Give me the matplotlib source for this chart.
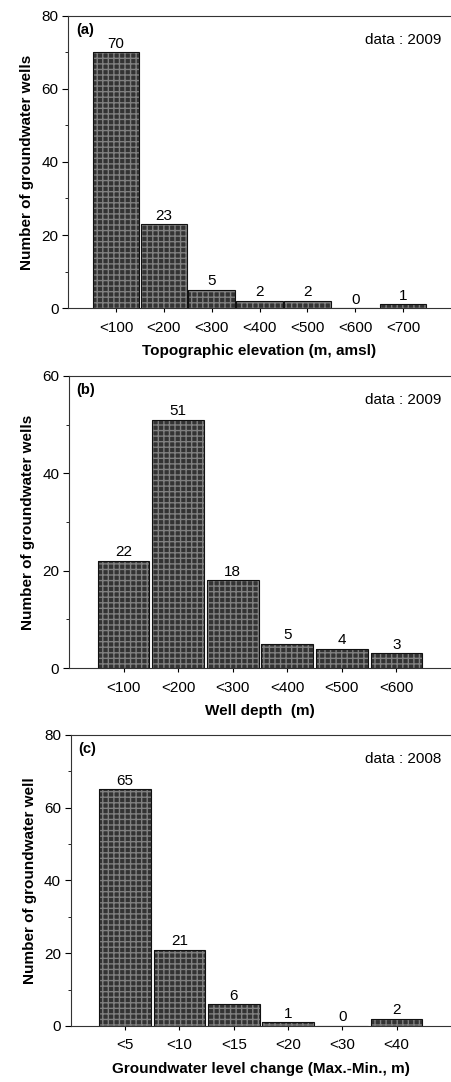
import numpy as np
import matplotlib
matplotlib.use("Agg")
import matplotlib.pyplot as plt
import matplotlib.ticker as mticker

plt.rcParams['font.family'] = ['Liberation Sans', 'DejaVu Sans']

# panel (a)
elev_labels = ["<100", "<200", "<300", "<400", "<500", "<600", "<700"]
elev_counts = [70, 23, 5, 2, 2, 0, 1]
# panel (b)
depth_labels = ["<100", "<200", "<300", "<400", "<500", "<600"]
depth_counts = [22, 51, 18, 5, 4, 3]
# panel (c)
change_labels = ["<5", "<10", "<15", "<20", "<30", "<40"]
change_counts = [65, 21, 6, 1, 0, 2]

panels = [
    dict(labels=elev_labels, counts=elev_counts, ymax=80, tag="(a)", year="data : 2009",
         xlabel="Topographic elevation (m, amsl)", ylabel="Number of groundwater wells",
         rect=[0.151, 0.7153, 0.849, 0.270], width=0.97),
    dict(labels=depth_labels, counts=depth_counts, ymax=60, tag="(b)", year="data : 2009",
         xlabel="Well depth  (m)", ylabel="Number of groundwater wells",
         rect=[0.153, 0.3826, 0.847, 0.270], width=0.95),
    dict(labels=change_labels, counts=change_counts, ymax=80, tag="(c)", year="data : 2008",
         xlabel="Groundwater level change (Max.-Min., m)", ylabel="Number of groundwater well",
         rect=[0.157, 0.0518, 0.843, 0.269], width=0.95),
]

fig = plt.figure(figsize=(4.51, 10.82), dpi=100)

for p in panels:
    ax = fig.add_axes(p["rect"])
    x = np.arange(len(p["counts"]))
    # textured fill then black outline
    ax.bar(x, p["counts"], width=p["width"], color="#333333", edgecolor="#808080",
           hatch="+++", linewidth=0, zorder=2)
    ax.bar(x, p["counts"], width=p["width"], fill=False, edgecolor="#111111",
           linewidth=0.8, zorder=3)
    for xi, c in zip(x, p["counts"]):
        ax.text(xi, c + p["ymax"] * 0.005, str(c), ha="center", va="bottom", fontsize=11)

    ax.set_xlim(-1, len(p["counts"]))
    ax.set_ylim(0, p["ymax"])
    ax.set_xticks(x)
    ax.set_xticklabels(p["labels"], fontsize=11)
    ax.yaxis.set_major_locator(mticker.MultipleLocator(20))
    ax.yaxis.set_minor_locator(mticker.MultipleLocator(10))
    ax.tick_params(axis="y", which="major", labelsize=11, length=4, width=0.8, pad=3)
    ax.tick_params(axis="y", which="minor", length=2, width=0.6)
    ax.tick_params(axis="x", length=3, width=0.8, pad=6)

    for s in ["left", "top", "bottom"]:
        ax.spines[s].set_color("#333333")
        ax.spines[s].set_linewidth(0.8)
    ax.spines["right"].set_visible(False)

    ax.set_xlabel(p["xlabel"], fontsize=11, fontweight="bold", labelpad=7)
    ax.set_ylabel(p["ylabel"], fontsize=11, fontweight="bold", labelpad=5)

    ax.text(0.02, 0.975, p["tag"], transform=ax.transAxes, ha="left", va="top",
            fontsize=10.5, fontweight="bold")
    ax.text(0.975, 0.94, p["year"], transform=ax.transAxes, ha="right", va="top",
            fontsize=11)

fig.savefig("out.png", dpi=100)
